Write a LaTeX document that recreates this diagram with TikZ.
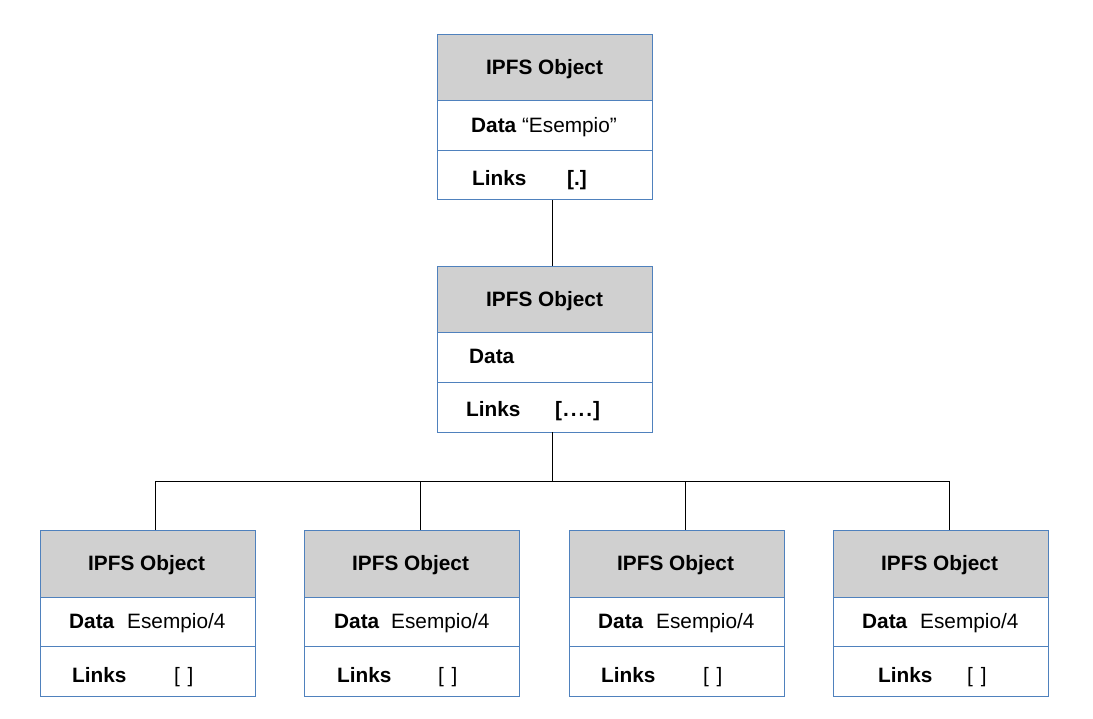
\documentclass[tikz,border=0pt]{standalone}
\usepackage{fontspec}
\setmainfont{Liberation Sans}
\begin{document}
\begin{tikzpicture}[x=1pt,y=-1pt,
  sect/.style={draw={rgb,255:red,79;green,129;blue,189}, line width=0.9pt, inner sep=0pt,
    minimum width=215pt, anchor=north west},
  hdr/.style={sect, fill={rgb,255:red,208;green,208;blue,208}, minimum height=66.5pt},
  rowbox/.style={sect, fill=white, minimum height=49.5pt},
  lbl/.style={anchor=base west, inner sep=0pt, font=\fontsize{20.8}{24}\selectfont},
  conn/.style={draw=black, line width=0.8pt}]
\useasboundingbox (0,0) rectangle (1093,719);
\fill[white] (0,0) rectangle (1093,719);

% ---- top object
\node[hdr] (tH) at (437,34) {};
\node[rowbox] (tD) at (437,100.5) {};
\node[rowbox] (tL) at (437,150) {};
\node[lbl] (tHt) at (486,75) {\bfseries IPFS Object};
\node[lbl] (tDt) at (471,132.5) {\bfseries Data \mdseries “Esempio”};
\node[lbl] (tLt) at (472,186) {\bfseries Links};
\node[lbl] (tLv) at (567,186) {\bfseries [.]};

% ---- middle object
\node[hdr] (mH) at (437,266) {};
\node[rowbox] (mD) at (437,332.5) {};
\node[rowbox] (mL) at (437,382) {};
\node[lbl] (mHt) at (486,307) {\bfseries IPFS Object};
\node[lbl] (mDt) at (469,364) {\bfseries Data};
\node[lbl] (mLt) at (466,417) {\bfseries Links};
\node[lbl] (mLv) at (555,417) {\bfseries [\kern1pt.\kern2pt.\kern2pt.\kern2pt.\kern1pt]};

% ---- bottom objects
\foreach \i/\x/\dx/\ex/\lx/\bx in {1/40/69/127/72/174, 2/304/334/391/337/438, 3/569/598/656/601/703, 4/833/862/920/878/967}{
  \node[hdr] (b\i H) at (\x,530) {};
  \node[rowbox] (b\i D) at (\x,596.5) {};
  \node[rowbox] (b\i L) at (\x,646) {};
  \node[lbl] (b\i Ht) at (\x+48,570) {\bfseries IPFS Object};
  \node[lbl] (b\i Dt) at (\dx,628) {\bfseries Data};
  \node[lbl] (b\i Dv) at (\ex,628) {Esempio/4};
  \node[lbl] (b\i Lt) at (\lx,682) {\bfseries Links};
  \node[lbl] (b\i Lv) at (\bx,682) {[\kern1pt\ \kern1pt]};
}

% ---- connectors
\coordinate (jx) at (552,0);
\coordinate (bus) at (552,481);
\coordinate (c1) at (155,481);
\coordinate (c2) at (420,481);
\coordinate (c3) at (685,481);
\coordinate (c4) at (949,481);
\draw[conn] (tL.south -| jx) -- (mH.north -| jx);
\draw[conn] (mL.south -| jx) -- (bus);
\draw[conn] (b1H.north -| c1) -- (c1) -- (c4) -- (b4H.north -| c4);
\draw[conn] (c2) -- (b2H.north -| c2);
\draw[conn] (c3) -- (b3H.north -| c3);
\end{tikzpicture}
\end{document}
